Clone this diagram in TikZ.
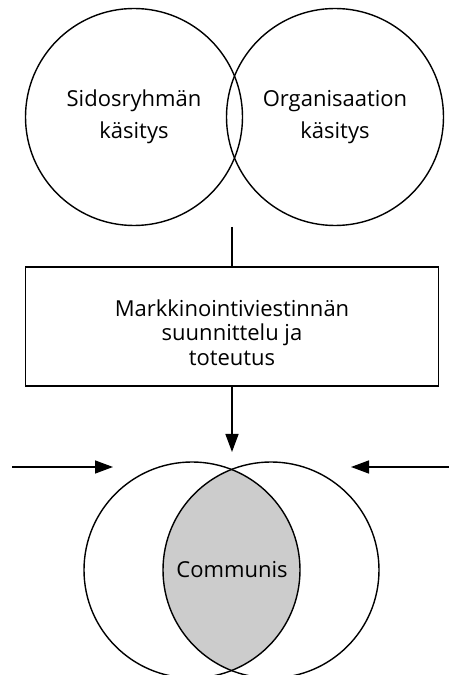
\documentclass[tikz,border=0pt]{standalone}
\usepackage{fontspec}
\setmainfont{Open Sans}
\usepackage{tikz}
\usetikzlibrary{arrows.meta}
\tikzset{>={Triangle[width=13pt,length=18pt]}}

\begin{document}
\begin{tikzpicture}[
    x = 1pt, y = 1pt,
    line width = 1.4pt,
    circ/.style = {draw, circle, minimum size=217pt, inner sep=0pt,
        outer sep = 0pt},
    txt/.style = {font=\fontsize{22}{32}\selectfont, align=center},
    box/.style = {draw, minimum width=413pt, minimum height=119pt}
  ]
  \useasboundingbox (0,0) rectangle (449,675);

  % ylempi pari
  \node[circ, txt] (SR) at (134,558) {Sidosryhmän\\käsitys};
  \node[circ, txt] (ORG) at (335,558) {Organisaation\\käsitys};
  \coordinate (TOP) at (232,448);

  \node[box] (MV) at (232,348.5) {};
  \node[txt, font=\fontsize{22}{24.5}\selectfont] (MVT) at ([yshift=-6pt]MV.center)
    {Markkinointiviestinnän\\suunnittelu ja\\toteutus};
  \coordinate (TIP) at (232,223);

  % alempi pari
  \begin{scope}
    \clip (192,105) circle (108);
    \fill[black!20] (271,105) circle (108);
  \end{scope}
  \node[circ, minimum size=216pt] (BL) at (192,105) {};
  \node[circ, minimum size=216pt] (BR) at (271,105) {};
  \node[txt] (COM) at (232,105) {Communis};

  \coordinate (LIN) at (12,208);
  \coordinate (LEND) at (113,208);
  \coordinate (RIN) at (449,208);
  \coordinate (REND) at (351,208);

  \draw (TOP) -- (MV.north);
  \draw[->] (MV.south) -- (TIP);
  \draw[->] (LIN) -- (LEND);
  \draw[->] (RIN) -- (REND);
\end{tikzpicture}
\end{document}
